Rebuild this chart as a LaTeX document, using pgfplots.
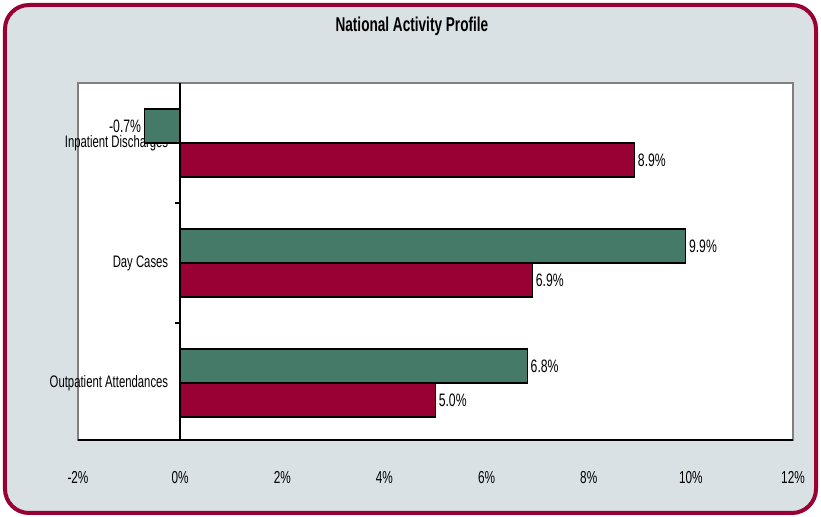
\documentclass[border=0pt]{standalone}
\usepackage{pgfplots}
\pgfplotsset{compat=1.18}
\usepackage{fontspec}
\setmainfont{Liberation Sans}[FakeStretch=0.68]
\definecolor{frameRed}{HTML}{990033}
\definecolor{panelGray}{HTML}{D9E1E4}
\definecolor{barGreen}{HTML}{467A68}
\definecolor{barRed}{HTML}{990033}
\begin{document}
\fontsize{12.5}{14}\selectfont
\begin{tikzpicture}
% page size (821x517 px at 0.75pt/px, axis origin at px 78,440)
\path (-58.5pt,-57.75pt) rectangle (557.25pt,330pt);
\draw[frameRed, line width=3pt, fill=panelGray, rounded corners=18pt]
  (-54.75pt,-54.75pt) rectangle (553.5pt,326.25pt);
\begin{axis}[
  scale only axis,
  width=536.25pt, height=267.75pt,
  xmin=-2, xmax=12, ymin=-0.475, ymax=2.5,
  xbar, bar width=25.5pt,
  axis background/.style={fill=white},
  axis line style={draw=gray, line width=1.2pt},
  xtick={-2,0,...,12},
  xticklabels={-2\%,0\%,2\%,4\%,6\%,8\%,10\%,12\%},
  xticklabel style={yshift=-19pt, font=\fontsize{13}{15}\selectfont},
  ytick={0,1,2},
  yticklabels={Outpatient Attendances, Day Cases, Inpatient Discharges},
  yticklabel style={anchor=east, xshift=72pt, font=\fontsize{12.5}{14}\selectfont},
  major tick length=0pt,
  tick style={draw=none},
  title={\bfseries National Activity Profile},
  title style={at={(rel axis cs:0.467,1.137)}, anchor=center, yshift=0pt,
    font=\fontsize{15}{17}\selectfont},
  nodes near coords={\pgfmathprintnumber[fixed,fixed zerofill,precision=1,assume math mode=true]{\pgfplotspointmeta}\%},
  every node near coord/.append style={font=\fontsize{13.5}{15}\selectfont, inner sep=2pt, black},
  clip=false,
]
\addplot[fill=barGreen, draw=black, line width=0.9pt, bar shift=12.75pt]
  coordinates {(-0.7,2) (9.9,1) (6.8,0)};
\addplot[fill=barRed, draw=black, line width=0.9pt, bar shift=-12.75pt]
  coordinates {(8.9,2) (6.9,1) (5.0,0)};
% zero line and category ticks
\draw[black, line width=1.2pt] (axis cs:0,-0.475) -- (axis cs:0,2.5);
\draw[black, line width=0.8pt] (axis cs:0,0.5) -- ([xshift=-4pt]axis cs:0,0.5);
\draw[black, line width=0.8pt] (axis cs:0,1.5) -- ([xshift=-4pt]axis cs:0,1.5);
\draw[black, line width=1.2pt] (rel axis cs:0,0) -- (rel axis cs:1,0);
\end{axis}
\end{tikzpicture}
\end{document}
